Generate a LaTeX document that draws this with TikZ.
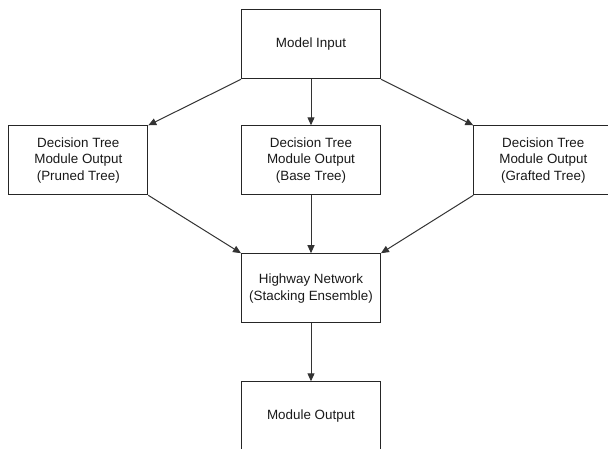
\documentclass[tikz,border=0pt]{standalone}
\usepackage{fontspec}
\setmainfont{Liberation Sans}
\usetikzlibrary{arrows.meta}
\begin{document}
\begin{tikzpicture}[x=1pt,y=-1pt,
  box/.style={draw=black!85, line width=1pt, minimum width=139pt, minimum height=69pt,
    inner sep=0pt, align=center, font=\fontsize{13.4}{16.7}\selectfont, text=black!90},
  conn/.style={draw=black!80, line width=1pt, -{Triangle[length=8pt,width=7pt]}}]
\useasboundingbox (0,0) rectangle (608,448);
\clip (0,0) rectangle (608,448);
\node[box] (mi) at (311,44.3) {Model Input};
\node[box] (lt) at (78.3,160.3) {Decision Tree\\Module Output\\(Pruned Tree)};
\node[box] (md) at (311,160.3) {Decision Tree\\Module Output\\(Base Tree)};
\node[box] (rt) at (543.3,160.3) {Decision Tree\\Module Output\\(Grafted Tree)};
\node[box] (hw) at (311,288.2) {Highway Network\\(Stacking Ensemble)};
\node[box] (mo) at (311,416.3) {Module Output};
\draw[conn] (mi.south west) -- (lt.north east);
\draw[conn] (mi.south) -- (md.north);
\draw[conn] (mi.south east) -- (rt.north west);
\draw[conn] (lt.south east) -- (hw.north west);
\draw[conn] (md.south) -- (hw.north);
\draw[conn] (rt.south west) -- (hw.north east);
\draw[conn] (hw.south) -- (mo.north);
\end{tikzpicture}
\end{document}
